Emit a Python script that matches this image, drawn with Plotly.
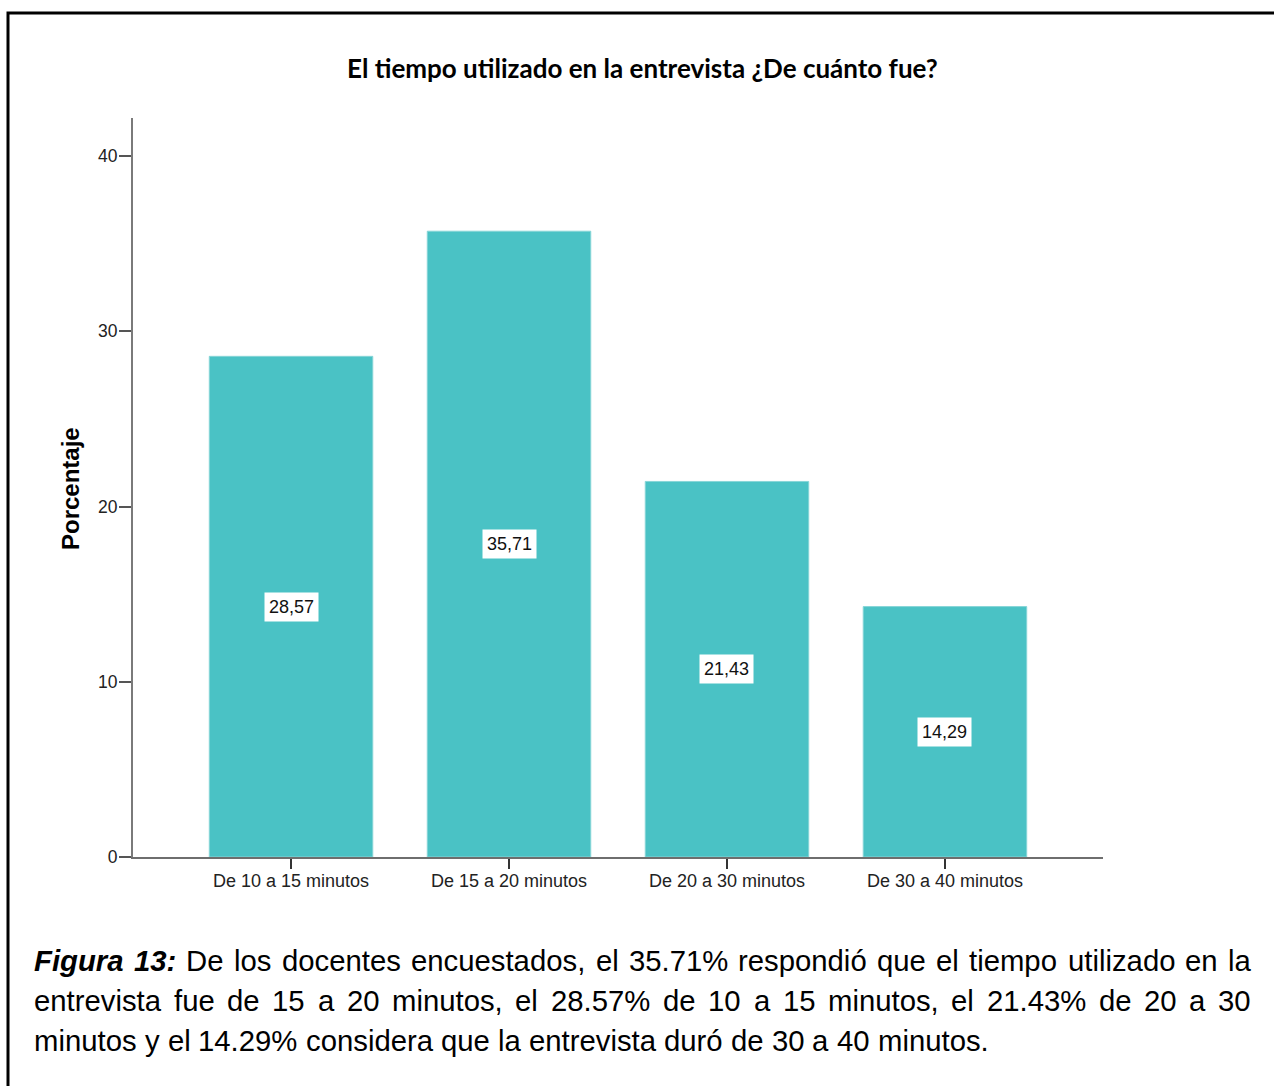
import plotly.graph_objects as go

# ---- data ----
categories = ["De 10 a 15 minutos", "De 15 a 20 minutos", "De 20 a 30 minutos", "De 30 a 40 minutos"]
percentages = [28.57, 35.71, 21.43, 14.29]
y_ticks = [0, 10, 20, 30, 40]

title_text = "El tiempo utilizado en la entrevista ¿De cuánto fue?"
y_title = "Porcentaje"
caption_lead = "Figura 13:"
caption_lines = [
    "De los docentes encuestados, el 35.71% respondió que el tiempo utilizado en la",
    "entrevista fue de 15 a 20 minutos, el 28.57% de 10 a 15 minutos, el 21.43% de 20 a 30",
    "minutos y el 14.29% considera que la entrevista duró de 30 a 40 minutos.",
]

# ---- page geometry (pixels) ----
W, H = 1274, 1086
PL, PR, PT, PB = 133, 1103, 118, 857  # plot area edges


def px(x):
    return (x - PL) / (PR - PL)


def py(y):
    return (PB - y) / (PB - PT)


BAR = "#4AC2C5"
SANS = "Liberation Sans, Arial, sans-serif"

fig = go.Figure()
fig.add_trace(go.Bar(
    x=categories, y=percentages, width=0.75,
    marker=dict(color=BAR, line=dict(color="#86d5d7", width=1)),
    hoverinfo="x+y",
))

annotations = []
# value boxes at half bar height
for c, v in zip(categories, percentages):
    annotations.append(dict(
        x=c, y=v / 2, xref="x", yref="y", showarrow=False,
        text=f"{v:.2f}".replace(".", ","),
        font=dict(family=SANS, size=18, color="#111"),
        bgcolor="white", borderpad=4,
    ))

# chart title
annotations.append(dict(
    x=px(642), y=py(68), xref="paper", yref="paper", showarrow=False,
    text=f"<b>{title_text}</b>", font=dict(family="Lato, Carlito, sans-serif", size=26, color="black"),
    xanchor="center", yanchor="middle",
))

# y-axis title
annotations.append(dict(
    x=px(70), y=py(489), xref="paper", yref="paper", showarrow=False,
    text=f"<b>{y_title}</b>", textangle=-90,
    font=dict(family=SANS, size=24, color="black"),
    xanchor="center", yanchor="middle",
))

# ---- justified caption (Arial / Liberation Sans advance widths, per 1000 em) ----
REG = {' ': 278, '.': 278, ',': 278, ':': 278, '%': 889, 'D': 722, 'F': 611,
       'a': 556, 'b': 556, 'c': 500, 'd': 556, 'e': 556, 'f': 278, 'g': 556, 'h': 556,
       'i': 222, 'j': 222, 'k': 500, 'l': 222, 'm': 833, 'n': 556, 'o': 556, 'p': 556,
       'q': 556, 'r': 333, 's': 500, 't': 278, 'u': 556, 'v': 500, 'w': 722, 'x': 500,
       'y': 500, 'z': 500, 'ó': 556, 'á': 556, 'é': 556, 'í': 278}
for d in "0123456789":
    REG[d] = 556
BOLD_IT = {'F': 611, 'i': 278, 'g': 611, 'u': 611, 'r': 389, 'a': 556, '1': 556, '3': 556,
           ':': 333, ' ': 278}

CAP_SIZE = 29.3
CAP_L, CAP_R = 33, 1250
CAP_Y = [960, 1000, 1040]


def width(word, table):
    return sum(table.get(ch, 556) for ch in word) * CAP_SIZE / 1000.0


def place_line(words, y, justify):
    natural = sum(width(w, t) for w, t, _ in words)
    gap = REG[' '] * CAP_SIZE / 1000.0
    if justify and len(words) > 1:
        gap = (CAP_R - CAP_L - natural) / (len(words) - 1)
    x = CAP_L
    for w, t, bold in words:
        annotations.append(dict(
            x=px(x), y=py(y), xref="paper", yref="paper", showarrow=False,
            text=f"<b><i>{w}</i></b>" if bold else w,
            font=dict(family=SANS, size=CAP_SIZE, color="black"),
            xanchor="left", yanchor="middle", borderpad=0,
        ))
        x += width(w, t) + gap


for i, line in enumerate(caption_lines):
    words = [(w, REG, False) for w in line.split(" ")]
    if i == 0:
        words = [(w, BOLD_IT, True) for w in caption_lead.split(" ")] + words
    place_line(words, CAP_Y[i], justify=(i < len(caption_lines) - 1))

# frame around the figure (top and left edges are visible)
shapes = [dict(
    type="path", xref="paper", yref="paper",
    path=f"M {px(8)} {py(1095)} L {px(8)} {py(13)} L {px(1285)} {py(13)}",
    line=dict(color="black", width=3),
)]

fig.update_layout(
    width=W, height=H,
    margin=dict(l=PL, r=W - PR, t=PT, b=H - PB),
    paper_bgcolor="white", plot_bgcolor="white",
    showlegend=False, bargap=0.25,
    annotations=annotations, shapes=shapes,
    xaxis=dict(
        type="category", range=[-0.725, 3.725],
        showline=True, linecolor="#6e6e6e", linewidth=2,
        ticks="outside", ticklen=10, tickwidth=2, tickcolor="#333",
        ticklabelstandoff=-4,
        tickfont=dict(family=SANS, size=18, color="#222"),
        showgrid=False, zeroline=False,
    ),
    yaxis=dict(
        range=[0, 42.17], tickvals=y_ticks,
        showline=True, linecolor="#7a7a7a", linewidth=2,
        ticks="outside", ticklen=12, tickwidth=2, tickcolor="#555",
        ticklabelstandoff=-2,
        tickfont=dict(family=SANS, size=17.5, color="#222"),
        showgrid=False, zeroline=False,
    ),
)

fig.write_html("out.html")
